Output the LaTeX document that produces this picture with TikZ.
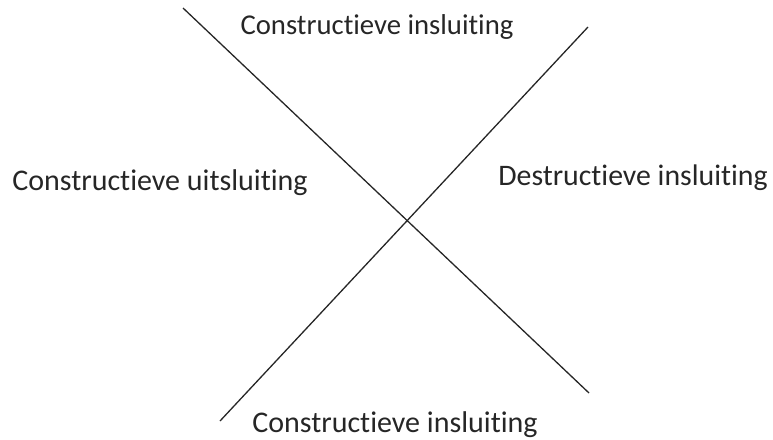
\documentclass[tikz,border=0pt]{standalone}
\usepackage{fontspec}
\setmainfont{Carlito}[Ligatures=CommonOff]
\begin{document}
\begin{tikzpicture}[x=1pt,y=-1pt,
  lbl/.style={inner sep=0pt,anchor=center,text=black!85},
  ln/.style={line width=1.3pt,black!85}]
\useasboundingbox (0,0) rectangle (773,439);
\coordinate (a1) at (183,8);
\coordinate (a2) at (589,393);
\coordinate (b1) at (588,27);
\coordinate (b2) at (220,421);
\draw[ln] (a1) -- (a2);
\draw[ln] (b1) -- (b2);
\node[lbl,font=\fontsize{28.7}{32}\selectfont] (top) at (377,27) {Constructieve insluiting};
\node[lbl,font=\fontsize{30}{34}\selectfont] (left) at (160,183) {Constructieve uitsluiting};
\node[lbl,font=\fontsize{29.8}{34}\selectfont] (right) at (633,178) {Destructieve insluiting};
\node[lbl,font=\fontsize{30}{34}\selectfont] (bottom) at (395,425) {Constructieve insluiting};
\end{tikzpicture}
\end{document}
